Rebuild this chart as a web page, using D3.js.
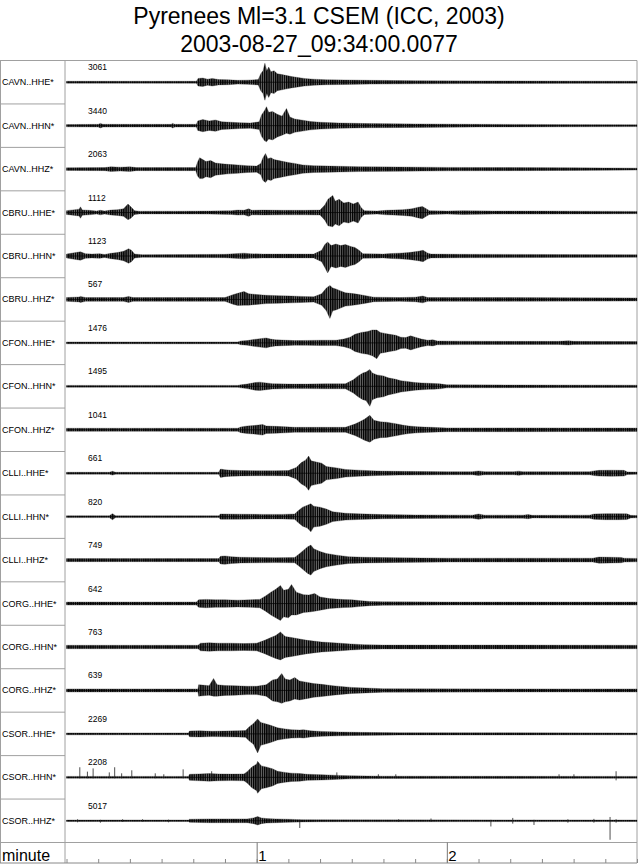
<!DOCTYPE html>
<html>
<head>
<meta charset="utf-8">
<script src="https://cdn.jsdelivr.net/npm/d3@7/dist/d3.min.js"></script>
<style>
  html, body { margin: 0; padding: 0; background: #fff; }
  svg { display: block; font-family: "Liberation Sans", Arial, Helvetica, sans-serif; }
</style>
</head>
<body>
<svg id="chart" width="640" height="865"></svg>
<script>
// ---------------- DATA ----------------
const titleLines = ["Pyrenees Ml=3.1 CSEM (ICC, 2003)", "2003-08-27_09:34:00.0077"];
const channels = ["CAVN..HHE*","CAVN..HHN*","CAVN..HHZ*","CBRU..HHE*","CBRU..HHN*","CBRU..HHZ*",
  "CFON..HHE*","CFON..HHN*","CFON..HHZ*","CLLI..HHE*","CLLI..HHN*","CLLI..HHZ*",
  "CORG..HHE*","CORG..HHN*","CORG..HHZ*","CSOR..HHE*","CSOR..HHN*","CSOR..HHZ*"];
const maxCounts = [3061, 3440, 2063, 1112, 1123, 567, 1476, 1495, 1041, 661, 820, 749, 642, 763, 639, 2269, 2208, 5017];
const axisLabel = "minute";
const majorTicks = [60, 120];          // seconds
const majorTickLabels = ["1", "2"];    // minutes
const minorTickStep = 10;              // seconds
const timeSpan = [0, 180];             // seconds

// envelope samples: [time (s), upper amplitude, lower amplitude (optional)] as fraction of trace max
const envCAVN_HHE = [[0,0.05],[41,0.05],[41.5,0.2],[43,0.22],[44.5,0.16],[46,0.2],[48,0.14],[51,0.13],[54,0.1],[57,0.11],[60.5,0.14],[61.3,0.45],[62,0.6],[62.6,1.0,0.95],[63.2,0.6],[63.8,0.8],[64.5,0.55],[65.5,0.6],[66.5,0.45],[68,0.4],[69.5,0.35],[71,0.3],[73,0.25],[75,0.2],[78,0.16],[82,0.13],[88,0.12],[96,0.1],[110,0.08],[130,0.07],[180,0.05]];
const envCAVN_HHN = [[0,0.06],[10,0.07],[10.7,0.12],[11.5,0.07],[33,0.07],[33.5,0.12],[34.2,0.07],[41,0.07],[41.4,0.25],[43,0.32],[45,0.25],[47,0.3],[49,0.2],[52,0.18],[55,0.15],[58,0.14],[60.8,0.2],[61.5,0.55],[62.5,0.8],[63.1,1.0,0.85],[63.8,0.7],[65,0.75],[66.5,0.6],[68,0.5],[69.4,0.9,0.4],[70.5,0.45],[72,0.35],[74,0.3],[77,0.22],[80,0.18],[86,0.14],[95,0.11],[110,0.09],[130,0.07],[180,0.05]];
const envCAVN_HHZ = [[0,0.07],[12,0.08],[14,0.12],[17,0.1],[20,0.12],[22,0.08],[40.8,0.08],[41.3,0.35],[42,0.6,0.5],[43,0.5],[44,0.4],[45.5,0.45],[47,0.32],[49,0.28],[51,0.25],[54,0.22],[57,0.18],[60,0.16],[61.3,0.3],[62,0.6],[62.8,0.82,0.7],[63.5,0.55],[64.5,0.6],[65.5,0.5],[67,0.45],[68.5,0.4],[70,0.35],[72,0.3],[74.5,0.22],[78,0.18],[83,0.16],[92,0.13],[105,0.11],[120,0.09],[140,0.08],[160,0.07],[180,0.05]];
const envCBRU_HHE = [[0,0.1],[2,0.14],[4,0.18],[4.4,0.3],[5,0.14],[7,0.12],[9.5,0.08],[10.7,0.12],[12,0.08],[14,0.13],[16,0.15],[18,0.2],[19.4,0.45,0.38],[20.3,0.3],[21.5,0.1],[23,0.07],[35,0.07],[45,0.08],[52,0.1],[54,0.13],[56,0.12],[57.5,0.2],[58.5,0.12],[62,0.13],[68,0.12],[75,0.12],[80,0.13],[81.5,0.4],[82.5,0.7],[84,0.9,0.75],[84.8,0.6],[86,0.7],[87.5,0.5],[89,0.55],[90.5,0.45],[92,0.55],[93,0.25],[94,0.1],[98,0.08],[101,0.12],[103,0.13],[106,0.15],[109,0.2],[111,0.28],[112.3,0.32],[113.5,0.2],[114.5,0.1],[120,0.08],[125,0.1],[135,0.08],[150,0.08],[165,0.07],[180,0.06]];
const envCBRU_HHN = [[0,0.1],[2,0.16],[4.4,0.22],[6,0.12],[8,0.1],[10.5,0.12],[12,0.08],[14,0.14],[16,0.18],[18,0.25],[19.6,0.38],[20.5,0.3],[21.5,0.1],[24,0.07],[40,0.08],[50,0.09],[53,0.12],[56,0.15],[58,0.12],[62,0.1],[70,0.1],[78,0.1],[80.5,0.3],[81.5,0.6],[82.4,0.74,0.89],[83.5,0.55],[85,0.63],[86.5,0.55],[88,0.6],[89.7,0.5],[91,0.45],[92.3,0.3],[93.5,0.12],[100,0.1],[102.5,0.13],[105,0.15],[108,0.18],[111,0.25],[112.5,0.3],[114,0.15],[115,0.1],[125,0.09],[150,0.08],[180,0.07]];
const envCBRU_HHZ = [[0,0.1],[4,0.13],[4.4,0.16],[6,0.1],[18,0.1],[19.6,0.16],[21,0.1],[40,0.1],[50,0.1],[52.5,0.25],[54,0.32],[56,0.42,0.3],[57.5,0.3],[60,0.26],[63,0.22],[67,0.2],[71,0.18],[74,0.16],[78,0.14],[80.5,0.3],[82,0.6],[83.1,0.74,1.0],[84,0.6],[85,0.55],[86.5,0.45],[88,0.35],[89.7,0.32],[91.5,0.28],[94.4,0.2],[97,0.12],[105,0.1],[110,0.12],[112.4,0.18],[114,0.1],[130,0.1],[180,0.08]];
const envCFON_HHE = [[0,0.05],[54,0.05],[55,0.1],[57,0.12],[59,0.18],[61,0.22],[63,0.26],[64.4,0.2],[66,0.16],[68,0.15],[72,0.12],[76,0.13],[80,0.14],[85,0.14],[87.5,0.2],[89.5,0.3],[91,0.45],[93,0.55],[95,0.6],[96.5,0.68],[97.9,0.68,0.83],[99,0.55],[100.5,0.5],[102,0.45],[103.9,0.4],[105.5,0.3],[107,0.28],[108.6,0.37],[110,0.3],[112,0.2],[114,0.14],[115.6,0.16],[117,0.1],[125,0.09],[140,0.08],[155,0.08],[158.5,0.11],[160,0.08],[180,0.07]];
const envCFON_HHN = [[0,0.05],[54,0.05],[55,0.08],[57,0.12],[59.5,0.2],[61,0.22],[63,0.18],[65,0.14],[70,0.12],[76,0.12],[82,0.13],[88,0.13],[90.5,0.35],[92,0.55],[93.5,0.7],[94.5,0.75],[95.7,0.89,1.05],[96.5,0.7],[98,0.6],[100,0.55],[101.5,0.45],[103.9,0.37],[105.5,0.3],[107.4,0.26],[110,0.2],[112,0.18],[114.3,0.16],[116,0.15],[117.8,0.13],[120,0.08],[140,0.07],[180,0.06]];
const envCFON_HHZ = [[0,0.08],[54,0.08],[55,0.15],[57,0.2],[59,0.22],[61.9,0.28],[63,0.2],[66,0.18],[69,0.16],[72,0.13],[80,0.13],[88,0.13],[91,0.3],[92.5,0.42],[94,0.55],[95.7,0.76,0.65],[97,0.5],[99,0.42],[101,0.4],[103.9,0.32],[106,0.25],[108,0.2],[110.8,0.16],[113,0.14],[115,0.13],[120,0.1],[140,0.1],[180,0.09]];
const envCLLI_HHE = [[0,0.05],[13.5,0.05],[14.5,0.1],[15.5,0.05],[48,0.05],[48.6,0.22],[50,0.18],[52,0.16],[55,0.14],[60,0.13],[66,0.13],[70,0.14],[72.5,0.3],[74,0.55],[75.5,0.7],[76.4,0.9,0.9],[77.2,0.65],[78.5,0.6],[80.5,0.53],[82,0.35],[85.3,0.28],[88,0.2],[92.2,0.16],[98,0.12],[105,0.1],[120,0.08],[128,0.08],[130,0.12],[132,0.08],[141,0.08],[142.7,0.11],[144,0.08],[165,0.08],[166.4,0.12],[168,0.15],[172,0.16],[175.9,0.15],[177,0.07],[180,0.06]];
const envCLLI_HHN = [[0,0.05],[13.5,0.05],[14.5,0.16],[15.5,0.05],[48,0.05],[48.6,0.14],[55,0.13],[62,0.12],[68,0.12],[72,0.14],[73,0.3],[74.5,0.5],[76,0.6],[77.1,0.68,0.8],[78,0.55],[80,0.5],[82,0.4],[84,0.26],[88,0.18],[92,0.15],[100,0.11],[110,0.09],[128,0.08],[130,0.14],[132,0.08],[144,0.08],[145.6,0.11],[147,0.07],[165,0.08],[166.4,0.14],[170,0.16],[174,0.16],[176.8,0.15],[178,0.07],[180,0.06]];
const envCLLI_HHZ = [[0,0.08],[48,0.08],[48.6,0.2],[50,0.22],[52,0.18],[55,0.15],[60,0.14],[66,0.13],[72,0.14],[73.6,0.35],[75,0.55],[76.1,0.7],[77.1,0.79,0.79],[78,0.6],[80,0.45],[82,0.35],[85.3,0.26],[89,0.18],[94,0.15],[105,0.12],[120,0.1],[150,0.1],[166,0.1],[168,0.16],[172,0.15],[175,0.14],[176,0.1],[180,0.09]];
const envCORG_HHE = [[0,0.08],[41,0.08],[41.7,0.2],[44,0.22],[47,0.2],[50,0.2],[54,0.18],[58,0.2],[61,0.22],[62.8,0.4],[64.5,0.6],[66,0.75],[67.5,0.95,0.89],[68.5,0.7],[70,0.75],[71,1.0,0.6],[72.5,0.6],[74.8,0.47],[76.5,0.45],[78.3,0.53,0.4],[80,0.35],[83,0.26],[87.5,0.21],[90,0.2],[92.2,0.16],[95.7,0.11],[100,0.09],[120,0.08],[180,0.08]];
const envCORG_HHN = [[0,0.09],[41.5,0.09],[42.3,0.2],[45,0.22],[48,0.2],[52,0.2],[56,0.18],[60,0.2],[62.5,0.35],[64.5,0.5],[66,0.6],[67.5,0.79,0.68],[69,0.55],[71,0.5],[73.6,0.42],[76,0.35],[80.5,0.26],[85.3,0.21],[89.7,0.16],[94,0.12],[100,0.1],[140,0.1],[180,0.09]];
const envCORG_HHZ = [[0,0.08],[41.5,0.08],[41.7,0.3],[43,0.28],[45,0.25],[46.4,0.63,0.3],[47.5,0.3],[50,0.26],[53,0.25],[57,0.22],[60,0.22],[63,0.3],[65,0.55],[66.5,0.6],[67.9,0.89,0.68],[69,0.6],[70.5,0.55],[72,0.68,0.45],[73.5,0.5],[76.1,0.42],[78,0.36],[80.5,0.32],[84,0.25],[86.5,0.21],[90,0.16],[94.4,0.13],[100,0.09],[140,0.08],[180,0.08]];
const envCSOR_HHE = [[0,0.05],[38.5,0.05],[38.8,0.15],[42,0.16],[46,0.14],[50,0.15],[54,0.16],[56.5,0.18],[57.5,0.35],[59,0.55],[60.3,0.79,1.0],[61.3,0.6],[62.5,0.55],[64.4,0.45],[66.6,0.32],[69,0.26],[71,0.22],[73.6,0.2],[74.8,0.22],[77,0.16],[80.5,0.13],[86,0.1],[92.2,0.08],[105,0.06],[180,0.05]];
const envCSOR_HHN = [[0,0.05],[38.5,0.05],[38.8,0.16],[42,0.18],[45,0.2],[48,0.18],[52,0.17],[56,0.18],[57,0.3],[58.5,0.55],[60,0.7],[60.3,0.84,0.84],[61.5,0.6],[63,0.55],[65,0.45],[66.6,0.32],[69,0.26],[71,0.22],[73.6,0.2],[76,0.16],[80.5,0.14],[86,0.1],[90,0.08],[100,0.06],[180,0.05]];
const envCSOR_HHZ = [[0,0.04],[38.5,0.04],[38.8,0.08],[45,0.1],[52,0.1],[57,0.1],[59,0.15],[60.3,0.22],[61.5,0.15],[63,0.12],[66,0.1],[70,0.08],[74,0.06],[80,0.05],[180,0.04]];

// isolated spikes: [time (s), up, down] as fraction of trace max
const spikesCSOR_HHN = [[4.2,0.53,0.05],[6.6,0.3,0.05],[8.4,0.47,0.05],[13.5,0.26,0.05],[15.2,0.53,0.05],[17.4,0.21,0.05],[20.6,0.37,0.05],[28,0.21,0.05],[30.7,0.16,0.05],[36.8,0.42,0.05],[45.8,0.32,0.1],[85.3,0.26,0.08],[98.4,0.16,0.05],[103.9,0.16,0.05],[155.4,0.16,0.05],[160.1,0.16,0.05],[173.4,0.32,0.16]];
const spikesCSOR_HHZ = [[3.5,0.08,0.08],[10.7,0.05,0.1],[17.7,0.08,0.06],[24,0.08,0.05],[32.2,0.06,0.08],[73.6,0.05,0.38],[104.8,0.08,0.06],[115,0.12,0.05],[133.9,0.05,0.3],[140.8,0.15,0.15],[147.5,0.05,0.22],[158.2,0.08,0.1],[166.4,0.1,0.1],[171.5,0.2,1.0],[173.4,0.08,0.1]];

const envelopes = [envCAVN_HHE, envCAVN_HHN, envCAVN_HHZ, envCBRU_HHE, envCBRU_HHN, envCBRU_HHZ,
  envCFON_HHE, envCFON_HHN, envCFON_HHZ, envCLLI_HHE, envCLLI_HHN, envCLLI_HHZ,
  envCORG_HHE, envCORG_HHN, envCORG_HHZ, envCSOR_HHE, envCSOR_HHN, envCSOR_HHZ];
const spikes = [[],[],[],[],[],[],[],[],[],[],[],[],[],[],[],[], spikesCSOR_HHN, spikesCSOR_HHZ];

// ---------------- LAYOUT ----------------
const plotLeft = 65, plotRight = 637, plotTop = 60.5, rowsBottom = 842.5, axisBottom = 863;
const borderColor = "#a0a0a0";

const svg = d3.select("#chart");

// texture for the dense oscillation inside each envelope
const pat = svg.append("defs").append("pattern")
  .attr("id", "wiggle").attr("patternUnits", "userSpaceOnUse")
  .attr("width", 2.2).attr("height", 10);
pat.append("rect").attr("width", 2.2).attr("height", 10).attr("fill", "#6a6a6a");
pat.append("rect").attr("width", 1.3).attr("height", 10).attr("fill", "#000");

const x = d3.scaleLinear().domain(timeSpan).range([66.5, plotRight]);
const row = d3.scaleBand().domain(channels).range([plotTop, rowsBottom]);
const amp = d3.scaleLinear().domain([-1, 1]).range([19, -19]);

// title
svg.selectAll("text.title").data(titleLines).join("text")
  .attr("class", "title")
  .attr("x", 319).attr("y", (d, i) => 24 + i * 28)
  .attr("text-anchor", "middle")
  .attr("font-size", 23)
  .attr("fill", "#000")
  .text(d => d);

// frame
const frame = svg.append("g").attr("stroke", borderColor).attr("stroke-width", 1).attr("fill", "none");
frame.append("line").attr("x1", 0).attr("x2", plotRight).attr("y1", plotTop).attr("y2", plotTop);
frame.append("line").attr("x1", 0).attr("x2", plotRight).attr("y1", rowsBottom).attr("y2", rowsBottom);
frame.append("line").attr("x1", plotLeft).attr("x2", plotLeft).attr("y1", plotTop).attr("y2", axisBottom);
frame.append("line").attr("x1", plotRight).attr("x2", plotRight).attr("y1", plotTop).attr("y2", axisBottom);
frame.append("line").attr("x1", 0.5).attr("x2", 0.5).attr("y1", plotTop).attr("y2", axisBottom);
frame.selectAll("line.sep").data(channels.slice(1)).join("line")
  .attr("class", "sep")
  .attr("x1", 0).attr("x2", plotLeft)
  .attr("y1", d => row(d)).attr("y2", d => row(d));

// traces
const area = d3.area()
  .x(d => x(d[0]))
  .y0(d => amp(-(d.length > 2 ? d[2] : d[1])))
  .y1(d => amp(d[1]))
  .curve(d3.curveLinear);

const traces = svg.selectAll("g.trace").data(channels).join("g")
  .attr("class", "trace")
  .attr("transform", d => `translate(0,${row(d) + row.bandwidth() / 2})`);

traces.append("text")
  .attr("x", 2).attr("y", 3)
  .attr("font-size", 9)
  .attr("fill", "#000")
  .text(d => d);

traces.append("text")
  .attr("x", 88).attr("y", -12)
  .attr("font-size", 8.5)
  .attr("fill", "#000")
  .text((d, i) => maxCounts[i]);

traces.append("path")
  .attr("d", (d, i) => area(envelopes[i]))
  .attr("fill", "url(#wiggle)")
  .attr("stroke", "#222").attr("stroke-width", 0.3);

traces.append("line")
  .attr("x1", x(timeSpan[0])).attr("x2", x(timeSpan[1]))
  .attr("y1", 0).attr("y2", 0)
  .attr("stroke", "#000").attr("stroke-width", 0.7);

traces.each(function(d, i) {
  d3.select(this).selectAll("line.spike").data(spikes[i]).join("line")
    .attr("class", "spike")
    .attr("x1", s => x(s[0])).attr("x2", s => x(s[0]))
    .attr("y1", s => amp(s[1])).attr("y2", s => amp(-s[2]))
    .attr("stroke", "#222").attr("stroke-width", 0.8);
});

// time axis (minutes)
const minorAxis = d3.axisTop(x)
  .tickValues(d3.range(timeSpan[0], timeSpan[1] + 1, minorTickStep))
  .tickSize(4).tickSizeOuter(0).tickFormat("");
const gMinor = svg.append("g").attr("transform", `translate(0,${axisBottom})`).call(minorAxis);
gMinor.select(".domain").remove();
gMinor.selectAll(".tick line").attr("stroke", "#888");

const majorAxis = d3.axisTop(x).tickValues(majorTicks).tickSize(axisBottom - rowsBottom).tickSizeOuter(0).tickFormat("");
const gMajor = svg.append("g").attr("transform", `translate(0,${axisBottom})`).call(majorAxis);
gMajor.select(".domain").remove();
gMajor.selectAll(".tick line").attr("stroke", "#777");

svg.selectAll("text.major").data(majorTicks).join("text")
  .attr("class", "major")
  .attr("x", d => x(d) + 1.5).attr("y", axisBottom - 2)
  .attr("font-size", 15)
  .attr("fill", "#000")
  .text((d, i) => majorTickLabels[i]);

svg.append("text")
  .attr("x", 2).attr("y", axisBottom - 2)
  .attr("font-size", 16)
  .attr("fill", "#000")
  .text(axisLabel);

svg.append("line")
  .attr("x1", 0).attr("x2", plotRight).attr("y1", axisBottom).attr("y2", axisBottom)
  .attr("stroke", "#888").attr("stroke-width", 1);
</script>
</body>
</html>
